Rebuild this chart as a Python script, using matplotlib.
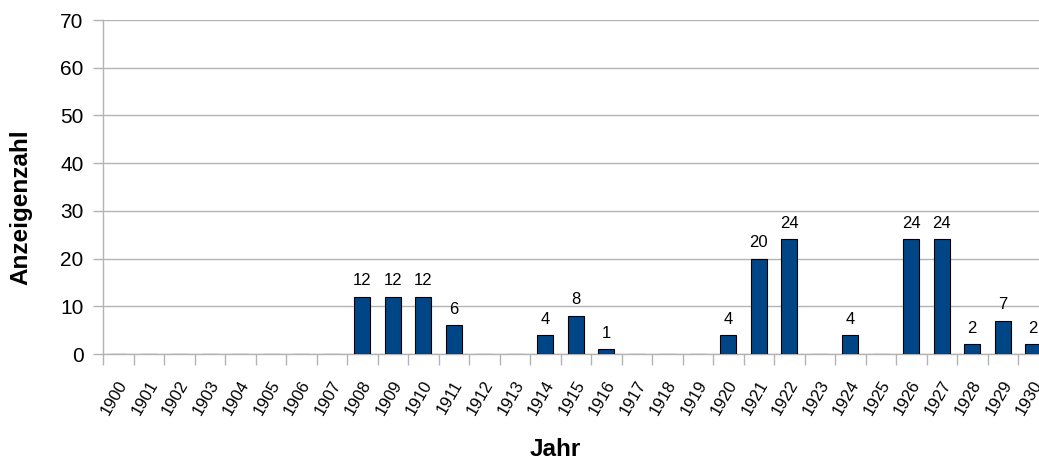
"""Bar chart of ad counts per year, 1900-1930."""

import matplotlib.pyplot as plt
from matplotlib.transforms import ScaledTranslation

plt.rcParams["font.family"] = ["Liberation Sans", "DejaVu Sans"]

years = list(range(1900, 1931))
counts = [0, 0, 0, 0, 0, 0, 0, 0, 12, 12, 12, 6, 0, 0, 4, 8, 1, 0, 0, 0,
          4, 20, 24, 0, 4, 0, 24, 24, 2, 7, 2]
y_ticks = [0, 10, 20, 30, 40, 50, 60, 70]

W, H = 1039, 463
grid_color = "#b3b3b3"
bar_color = "#004586"

fig = plt.figure(figsize=(W / 100, H / 100), dpi=100)
# axes extends a bit past the right edge, as in the original
left, right, top, bottom = 103, 1048.5, 20, 354
ax = fig.add_axes([left / W, 1 - bottom / H, (right - left) / W, (bottom - top) / H])

x = list(range(len(years)))
ax.bar(x, counts, width=0.52, color=bar_color, edgecolor="black", linewidth=0.8, zorder=3)

for xi, c in zip(x, counts):
    if c > 0:
        ax.annotate(str(c), (xi, c), xytext=(0, 6), textcoords="offset points",
                    ha="center", va="bottom", fontsize=12)

ax.set_xlim(-0.5, len(years) - 0.5)
ax.set_ylim(0, 70)
ax.set_yticks(y_ticks)
ax.tick_params(axis="y", labelsize=15, length=7, color=grid_color, width=1, pad=7)
ax.yaxis.grid(True, color=grid_color, linewidth=1, zorder=0)

# boundary ticks between categories, labels centred on categories
ax.set_xticks([i - 0.5 for i in range(len(years) + 1)])
ax.set_xticklabels([])
ax.tick_params(axis="x", which="major", length=8, color=grid_color, width=1)
ax.set_xticks(x, minor=True)
ax.set_xticklabels([str(y) for y in years], minor=True, rotation=60,
                   ha="right", va="top", rotation_mode="anchor", fontsize=12)
ax.tick_params(axis="x", which="minor", length=0, pad=17)
shift = ScaledTranslation(-1 / 100, 0, fig.dpi_scale_trans)
for lbl in ax.get_xticklabels(minor=True):
    lbl.set_transform(lbl.get_transform() + shift)

for side in ("top", "right"):
    ax.spines[side].set_visible(False)
for side in ("left", "bottom"):
    ax.spines[side].set_color(grid_color)
    ax.spines[side].set_linewidth(1)

fig.text(21 / W, 1 - 207 / H, "Anzeigenzahl", rotation=90, ha="center", va="center",
         fontsize=17.5, fontweight="bold")
fig.text(555 / W, 1 - 450 / H, "Jahr", ha="center", va="center",
         fontsize=17.5, fontweight="bold")

fig.savefig("out.png", dpi=100)
